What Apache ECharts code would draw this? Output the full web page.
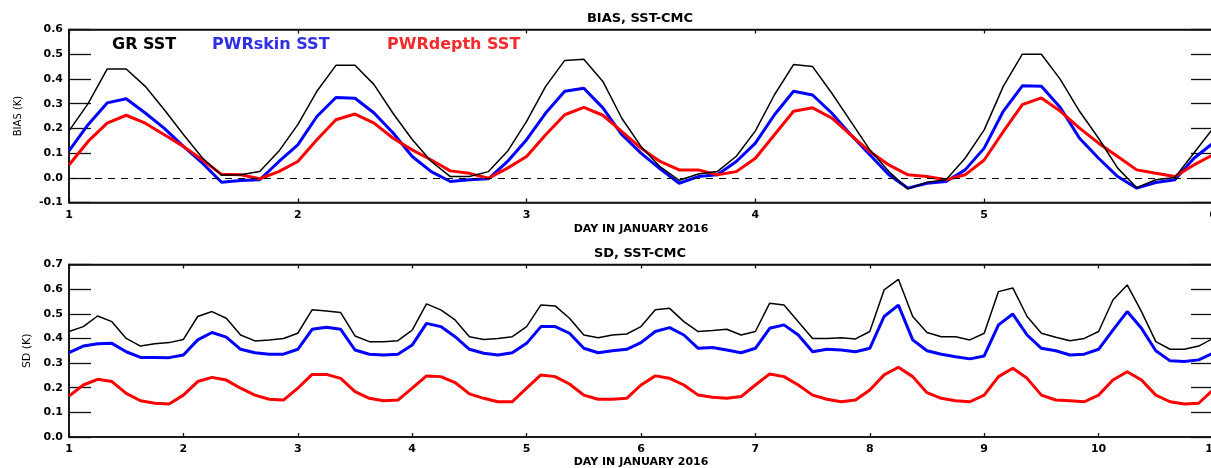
<!DOCTYPE html>
<html>
<head>
<meta charset="utf-8">
<script src="https://cdn.jsdelivr.net/npm/echarts@6/dist/echarts.min.js"></script>
<style>
html,body{margin:0;padding:0;background:#fff;}
#chart{width:1211px;height:468px;}
</style>
</head>
<body>
<div id="chart"></div>
<script>
// ---- Data ----
// Top panel: BIAS, sampled every 2 hours from day 1 to day 6
const topStartDay = 1;
const topStepDays = 1 / 12;
const biasGR = [0.19,0.30,0.44,0.44,0.37,0.275,0.175,0.08,0.01,0.012,
  0.025,0.107,0.215,0.35,0.455,0.455,0.377,0.26,0.155,0.066,
  0.005,0.005,0.025,0.107,0.228,0.37,0.475,0.48,0.39,0.24,
  0.127,0.045,-0.01,0.015,0.025,0.087,0.19,0.336,0.458,0.45,
  0.343,0.228,0.113,0.025,-0.045,-0.018,-0.008,0.079,0.194,0.37,
  0.5,0.5,0.397,0.269,0.16,0.039,-0.04,-0.008,0.001,0.1,
  0.2];
const biasSkin = [0.109,0.215,0.303,0.32,0.262,0.2,0.127,0.059,-0.018,-0.011,
  -0.008,0.065,0.133,0.248,0.325,0.322,0.262,0.181,0.086,0.025,
  -0.015,-0.008,-0.004,0.066,0.154,0.262,0.35,0.362,0.283,0.174,
  0.1,0.036,-0.022,0.005,0.012,0.066,0.14,0.255,0.35,0.335,
  0.262,0.174,0.093,0.012,-0.042,-0.022,-0.015,0.032,0.12,0.269,
  0.372,0.37,0.283,0.16,0.079,0.005,-0.042,-0.019,-0.008,0.079,
  0.14];
const biasDepth = [0.052,0.147,0.221,0.253,0.221,0.174,0.127,0.072,0.014,0.012,
  -0.004,0.025,0.066,0.154,0.235,0.258,0.221,0.16,0.113,0.072,
  0.028,0.018,-0.002,0.039,0.086,0.174,0.255,0.285,0.253,0.187,
  0.12,0.066,0.032,0.032,0.012,0.025,0.079,0.174,0.269,0.283,
  0.242,0.174,0.106,0.052,0.012,0.005,-0.008,0.012,0.072,0.187,
  0.296,0.323,0.269,0.201,0.14,0.086,0.032,0.018,0.005,0.052,
  0.093];

// Bottom panel: SD, sampled every 3 hours from day 1 to day 11
const botStartDay = 1;
const botStepDays = 1 / 8;
const sdGR = [0.428,0.448,0.491,0.468,0.40,0.369,0.378,0.383,0.396,0.489,
  0.509,0.482,0.414,0.39,0.394,0.40,0.421,0.516,0.511,0.505,
  0.41,0.387,0.387,0.391,0.434,0.54,0.516,0.475,0.407,0.396,
  0.40,0.407,0.448,0.536,0.532,0.482,0.414,0.403,0.414,0.418,
  0.448,0.516,0.522,0.468,0.428,0.432,0.437,0.414,0.428,0.543,
  0.536,0.468,0.40,0.40,0.403,0.398,0.428,0.597,0.64,0.489,
  0.424,0.407,0.407,0.394,0.421,0.59,0.605,0.489,0.421,0.405,
  0.391,0.40,0.428,0.556,0.617,0.509,0.387,0.356,0.356,0.369,
  0.40];
const sdSkin = [0.342,0.369,0.378,0.38,0.346,0.323,0.323,0.322,0.333,0.394,
  0.424,0.405,0.356,0.342,0.336,0.336,0.356,0.437,0.445,0.437,
  0.353,0.336,0.333,0.336,0.373,0.461,0.448,0.407,0.356,0.34,
  0.333,0.342,0.38,0.448,0.448,0.421,0.36,0.342,0.35,0.356,
  0.383,0.428,0.444,0.414,0.36,0.363,0.353,0.342,0.36,0.441,
  0.455,0.414,0.346,0.356,0.353,0.346,0.36,0.489,0.535,0.394,
  0.35,0.336,0.326,0.317,0.329,0.455,0.499,0.414,0.36,0.35,
  0.333,0.336,0.356,0.434,0.509,0.441,0.35,0.309,0.306,0.313,
  0.34];
const sdDepth = [0.166,0.211,0.234,0.225,0.177,0.147,0.137,0.134,0.17,0.225,
  0.242,0.231,0.198,0.17,0.153,0.15,0.198,0.254,0.254,0.238,
  0.184,0.157,0.147,0.15,0.198,0.248,0.245,0.221,0.175,0.157,
  0.143,0.143,0.198,0.252,0.245,0.215,0.17,0.153,0.153,0.157,
  0.211,0.248,0.238,0.211,0.17,0.161,0.157,0.164,0.211,0.256,
  0.245,0.211,0.17,0.153,0.143,0.15,0.191,0.252,0.283,0.245,
  0.18,0.157,0.147,0.143,0.17,0.245,0.279,0.238,0.17,0.15,
  0.147,0.143,0.17,0.231,0.265,0.231,0.17,0.143,0.134,0.137,
  0.191];

const seriesNames = ['GR SST', 'PWRskin SST', 'PWRdepth SST'];
const topTitle = 'BIAS, SST-CMC';
const botTitle = 'SD, SST-CMC';
const xName = 'DAY IN JANUARY 2016';
const topYName = 'BIAS (K)';
const botYName = 'SD (K)';

// ---- Build ----
function pairs(arr, start, step) { return arr.map((v, i) => [start + i * step, v]); }

const BLACK = '#000000', BLUE = '#0000ff', RED = '#ff0000';
function frame() { return { show: true, onZero: false, lineStyle: { color: '#111', width: 1.6 } }; }
function tick(len) { return { show: true, inside: true, length: len, lineStyle: { color: '#111', width: 1.3 } }; }
function labelStyle(extra) {
  return Object.assign({ color: '#000', fontSize: 11, fontWeight: 'bold', fontFamily: 'DejaVu Sans' }, extra);
}
function nameStyle(size, weight) {
  return { color: '#000', fontSize: size, fontWeight: weight || 'normal', fontFamily: 'DejaVu Sans' };
}
function xAxes(gi, min, max, gap) {
  return [
    { gridIndex: gi, type: 'value', min: min, max: max, interval: 1, position: 'bottom',
      name: xName, nameLocation: 'middle', nameGap: gap, nameTextStyle: nameStyle(11, 'bold'),
      axisLine: frame(), axisTick: tick(4),
      axisLabel: labelStyle({ margin: 7 }), splitLine: { show: false } },
    { gridIndex: gi, type: 'value', min: min, max: max, interval: 1, position: 'top',
      axisLine: frame(), axisTick: tick(4),
      axisLabel: { show: false }, splitLine: { show: false } }
  ];
}
function yAxes(gi, min, max, name, gap, size) {
  return [
    { gridIndex: gi, type: 'value', min: min, max: max, interval: 0.1, position: 'left',
      name: name, nameLocation: 'middle', nameRotate: 90, nameGap: gap, nameTextStyle: nameStyle(size),
      axisLine: frame(), axisTick: tick(22),
      axisLabel: labelStyle({ margin: 6, formatter: v => v.toFixed(1) }), splitLine: { show: false } },
    { gridIndex: gi, type: 'value', min: min, max: max, interval: 0.1, position: 'right',
      axisLine: frame(), axisTick: tick(22),
      axisLabel: { show: false }, splitLine: { show: false } }
  ];
}
function line(name, data, xi, yi, color, width, extra) {
  return Object.assign({ name: name, type: 'line', xAxisIndex: xi, yAxisIndex: yi, data: data,
    showSymbol: false, symbol: 'none', lineStyle: { color: color, width: width }, itemStyle: { color: color } }, extra || {});
}
function legendItem(name, left, color) {
  return { left: left, top: 36.5, padding: 0, orient: 'horizontal', icon: 'none', itemWidth: 0, itemHeight: 16,
    selectedMode: false, data: [{ name: name, textStyle: { color: color } }],
    textStyle: { fontSize: 16, fontWeight: 'bold', fontFamily: 'DejaVu Sans', color: color, padding: 0 } };
}
function gridBox(top, height) {
  return { left: 69, top: top, width: 1144, height: height, outerBoundsMode: 'none', containLabel: false,
    show: true, borderColor: '#111', borderWidth: 1.6, backgroundColor: 'transparent' };
}

const option = {
  animation: false,
  backgroundColor: '#fff',
  title: [
    { text: topTitle, left: 640, top: 12.5, textAlign: 'center', padding: 0,
      textStyle: { fontSize: 13, fontWeight: 'bold', fontFamily: 'DejaVu Sans', color: '#000' } },
    { text: botTitle, left: 640, top: 247, textAlign: 'center', padding: 0,
      textStyle: { fontSize: 13, fontWeight: 'bold', fontFamily: 'DejaVu Sans', color: '#000' } }
  ],
  legend: [
    legendItem(seriesNames[0], 107, '#000'),
    legendItem(seriesNames[1], 207, '#2f2fe6'),
    legendItem(seriesNames[2], 382, '#f52a2a')
  ],
  grid: [ gridBox(29.5, 173), gridBox(264.5, 172.5) ],
  xAxis: xAxes(0, 1, 6, 21).concat(xAxes(1, 1, 11, 19.5)),
  yAxis: yAxes(0, -0.1, 0.6, topYName, 46, 10).concat(yAxes(1, 0, 0.7, botYName, 35, 11)),
  series: [
    line(seriesNames[1], pairs(biasSkin, topStartDay, topStepDays), 0, 0, BLUE, 3),
    line(seriesNames[2], pairs(biasDepth, topStartDay, topStepDays), 0, 0, RED, 3),
    line(seriesNames[0], pairs(biasGR, topStartDay, topStepDays), 0, 0, BLACK, 1.5, {
      markLine: { silent: true, symbol: 'none', label: { show: false },
        lineStyle: { color: '#000', type: [7, 6], width: 1 }, data: [{ yAxis: 0 }] }
    }),
    line(seriesNames[1], pairs(sdSkin, botStartDay, botStepDays), 2, 2, BLUE, 3),
    line(seriesNames[2], pairs(sdDepth, botStartDay, botStepDays), 2, 2, RED, 3),
    line(seriesNames[0], pairs(sdGR, botStartDay, botStepDays), 2, 2, BLACK, 1.5)
  ]
};

const chart = echarts.init(document.getElementById('chart'));
chart.setOption(option);
</script>
</body>
</html>
